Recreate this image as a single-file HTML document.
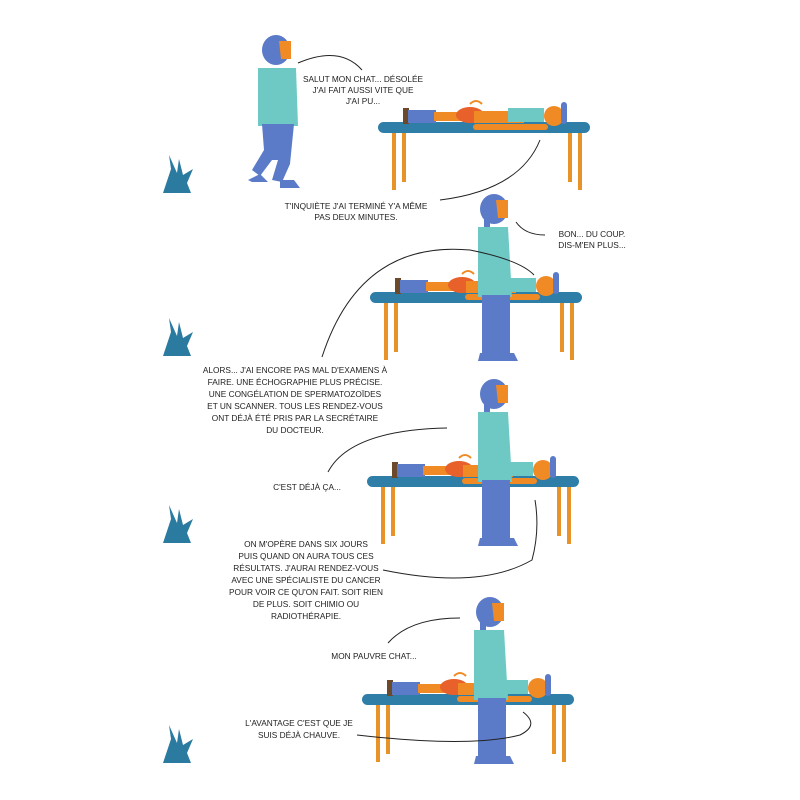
<!DOCTYPE html>
<html><head><meta charset="utf-8"><style>
body{margin:0;background:#fff}
svg{display:block}
text{font-family:"Liberation Sans Narrow","Liberation Sans",sans-serif;font-size:8.3px;fill:#222;text-anchor:middle}
</style></head><body>
<svg width="800" height="800" viewBox="0 0 800 800" xmlns="http://www.w3.org/2000/svg">
<defs>
<g id="table">
<rect x="14" y="8" width="4" height="60" fill="#e8922a"/><rect x="24" y="8" width="4" height="52" fill="#e8922a"/>
<rect x="190" y="8" width="4" height="52" fill="#e8922a"/><rect x="200" y="8" width="4" height="60" fill="#e8922a"/>
<rect x="0" y="0" width="212" height="11" rx="5.5" fill="#2f7ea8"/>
</g>
<g id="lying">
<rect x="25" y="-14" width="6" height="16" fill="#6b4a2b"/>
<rect x="30" y="-12" width="28" height="13" fill="#5b7bc9"/>
<rect x="56" y="-10" width="40" height="9" fill="#f08a24"/>
<ellipse cx="92" cy="-7" rx="14" ry="8" fill="#e8602a"/>
<rect x="96" y="-11" width="50" height="12" fill="#f08a24"/>
<rect x="130" y="-14" width="36" height="14" fill="#6ec9c4"/>
<rect x="95" y="2" width="75" height="6" rx="3" fill="#f08a24"/>
<circle cx="176" cy="-6" r="10" fill="#f08a24"/>
<rect x="183" y="-20" width="6" height="22" rx="3" fill="#5b7bc9"/>
<path d="M92,-18 q6,-6 12,0" stroke="#f08a24" stroke-width="2" fill="none"/>
</g>
<g id="woman">
<ellipse cx="0" cy="12" rx="14" ry="15" fill="#5b7bc9"/>
<path d="M2,3 h12 v18 h-10 z" fill="#f08a24"/>
<rect x="-10" y="22" width="6" height="14" fill="#5b7bc9"/>
<path d="M-16,30 h30 l4,70 h-34 z" fill="#6ec9c4"/>
<rect x="-12" y="98" width="28" height="60" fill="#5b7bc9"/>
<path d="M-14,156 h34 l4,8 h-40 z" fill="#5b7bc9"/>
</g>
<g id="grass" fill="#2b7aa0">
<path d="M0,38 L8,14 L6,0 L14,18 L16,4 L20,20 L30,14 L24,28 L28,38 Z"/>
</g>
</defs>

<!-- grass -->
<use href="#grass" x="163" y="155"/>
<use href="#grass" x="163" y="318"/>
<use href="#grass" x="163" y="505"/>
<use href="#grass" x="163" y="725"/>

<!-- panel 1 -->
<use href="#table" x="378" y="122"/>
<use href="#lying" x="378" y="122"/>
<g>
<ellipse cx="276" cy="50" rx="14" ry="15" fill="#5b7bc9"/>
<path d="M279,41 h12 v18 h-10 z" fill="#f08a24"/>
<path d="M258,68 h38 l2,58 h-40 z" fill="#6ec9c4"/>
<path d="M262,124 h32 l-4,40 l-8,18 l-10,-2 l6,-20 l-6,0 l-12,16 l-8,-6 l12,-20 z" fill="#5b7bc9"/>
<path d="M248,180 l12,-6 l8,8 h-16z M280,180 h14 l6,8 h-20z" fill="#5b7bc9"/>
</g>
<path d="M298,63 Q340,45 362,70" stroke="#222" fill="none" stroke-width="1"/>
<text x="363" y="82">SALUT MON CHAT... DÉSOLÉE</text>
<text x="363" y="93">J'AI FAIT AUSSI VITE QUE</text>
<text x="363" y="104">J'AI PU...</text>
<path d="M540,140 Q520,190 440,200" stroke="#222" fill="none" stroke-width="1"/>
<text x="356" y="209">T'INQUIÈTE J'AI TERMINÉ Y'A MÊME</text>
<text x="356" y="220">PAS DEUX MINUTES.</text>

<!-- panel 2 -->
<use href="#table" x="370" y="292"/>
<use href="#lying" x="370" y="292"/>
<use href="#woman" x="494" y="197"/>
<path d="M516,222 Q525,235 545,235" stroke="#222" fill="none" stroke-width="1"/>
<text x="592" y="237">BON... DU COUP.</text>
<text x="592" y="248">DIS-M'EN PLUS...</text>
<path d="M322,357 Q360,240 470,250 Q520,260 534,275" stroke="#222" fill="none" stroke-width="1"/>
<text x="295" y="373">ALORS... J'AI ENCORE PAS MAL D'EXAMENS À</text>
<text x="295" y="385">FAIRE. UNE ÉCHOGRAPHIE PLUS PRÉCISE.</text>
<text x="295" y="397">UNE CONGÉLATION DE SPERMATOZOÏDES</text>
<text x="295" y="409">ET UN SCANNER. TOUS LES RENDEZ-VOUS</text>
<text x="295" y="421">ONT DÉJÀ ÉTÉ PRIS PAR LA SECRÉTAIRE</text>
<text x="295" y="433">DU DOCTEUR.</text>

<!-- panel 3 -->
<use href="#table" x="367" y="476"/>
<use href="#lying" x="367" y="476"/>
<use href="#woman" x="494" y="382"/>
<path d="M328,472 Q350,430 447,428" stroke="#222" fill="none" stroke-width="1"/>
<text x="307" y="490">C'EST DÉJÀ ÇA...</text>
<path d="M383,570 Q480,590 532,560 Q540,530 535,500" stroke="#222" fill="none" stroke-width="1"/>
<text x="306" y="547">ON M'OPÈRE DANS SIX JOURS</text>
<text x="306" y="559">PUIS QUAND ON AURA TOUS CES</text>
<text x="306" y="571">RÉSULTATS. J'AURAI RENDEZ-VOUS</text>
<text x="306" y="583">AVEC UNE SPÉCIALISTE DU CANCER</text>
<text x="306" y="595">POUR VOIR CE QU'ON FAIT. SOIT RIEN</text>
<text x="306" y="607">DE PLUS. SOIT CHIMIO OU</text>
<text x="306" y="619">RADIOTHÉRAPIE.</text>

<!-- panel 4 -->
<use href="#table" x="362" y="694"/>
<use href="#lying" x="362" y="694"/>
<use href="#woman" x="490" y="600"/>
<path d="M388,643 Q410,618 460,618" stroke="#222" fill="none" stroke-width="1"/>
<text x="374" y="659">MON PAUVRE CHAT...</text>
<path d="M357,735 Q470,748 520,735 Q540,725 523,712" stroke="#222" fill="none" stroke-width="1"/>
<text x="299" y="726">L'AVANTAGE C'EST QUE JE</text>
<text x="299" y="738">SUIS DÉJÀ CHAUVE.</text>
</svg>
</body></html>
